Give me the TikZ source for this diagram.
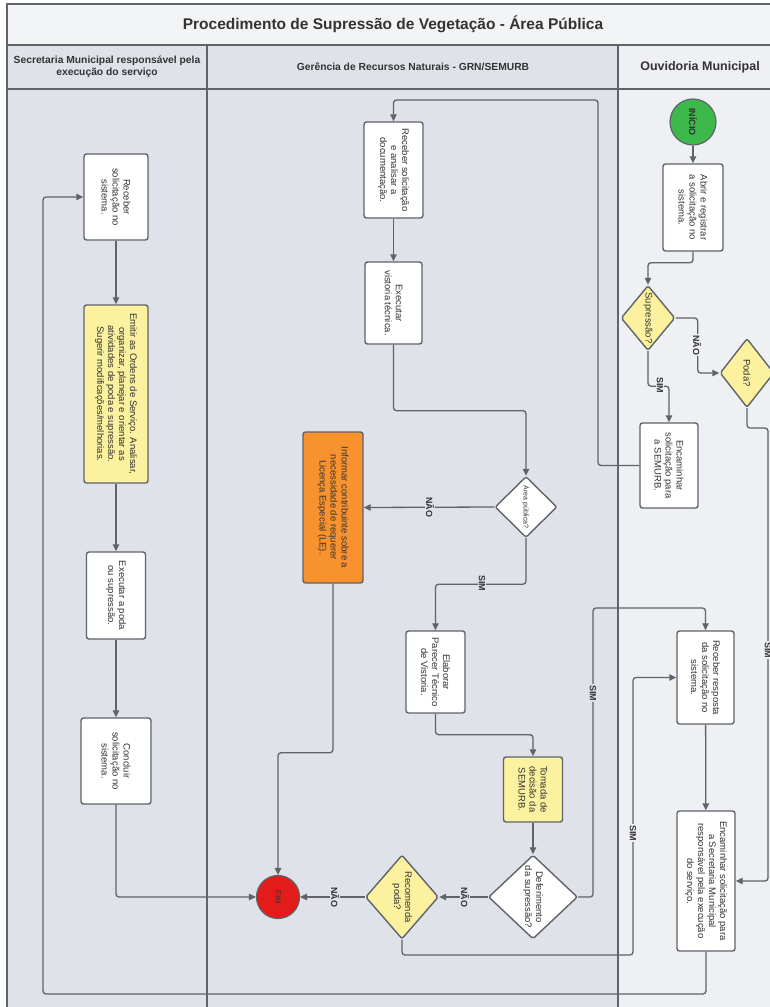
\documentclass[tikz,border=0pt]{standalone}
\usepackage{fontspec}
\setmainfont{Liberation Sans}
\usetikzlibrary{shapes.geometric,arrows.meta}
\definecolor{lane}{HTML}{DFE2E8}
\definecolor{lanelt}{HTML}{EEF0F3}
\definecolor{titlebg}{HTML}{F3F4F6}
\definecolor{bord}{HTML}{5F636A}
\definecolor{ylw}{HTML}{FBF19E}
\definecolor{org}{HTML}{F7922F}
\definecolor{redc}{HTML}{E31B1B}
\definecolor{grn}{HTML}{3DB84B}
\definecolor{txt}{HTML}{333333}
\newcommand{\vt}[2]{\rotatebox{-90}{\parbox{#1}{\centering #2}}}
\begin{document}
\begin{tikzpicture}[x=1pt,y=-1pt,
  bx/.style={draw=bord, line width=1.4pt, rounded corners=2.5pt, fill=white, inner sep=0pt, font=\fontsize{9.5}{11}\selectfont, text=txt},
  dm/.style={diamond, draw=bord, line width=1.4pt, rounded corners=2pt, fill=white, inner sep=0pt, aspect=1},
  dtxt/.style={font=\fontsize{9.5}{11}\selectfont, text=txt, inner sep=0pt},
  cl/.style={circle, draw=bord, line width=1.2pt, inner sep=0pt},
  cn/.style={draw=bord, line width=1.3pt, rounded corners=3pt, -{Triangle[length=7pt,width=6.5pt]}},
  lab/.style={font=\fontsize{9}{10}\selectfont\bfseries, text=txt, inner sep=1pt},
  lanebox/.style={draw=bord, line width=1.4pt},
]
\useasboundingbox (0,0) rectangle (769,1007);
% lanes
\fill[lane] (7,89) rectangle (618,1012);
\fill[lanelt] (618,89) rectangle (780,1012);
\draw[lanebox, fill=titlebg] (7,4) rectangle (780,45);
\draw[lanebox, fill=lane] (7,45) rectangle (207,89);
\draw[lanebox, fill=lane] (207,45) rectangle (618,89);
\draw[lanebox, fill=lanelt] (618,45) rectangle (780,89);
\draw[lanebox] (7,89) -- (7,1012);
\draw[lanebox] (207,89) -- (207,1012);
\draw[lanebox] (618,89) -- (618,1012);
\node[font=\fontsize{15.5}{18}\selectfont\bfseries, text=txt] (title) at (393,24) {Procedimento de Supressão de Vegetação - Área Pública};
\node[font=\fontsize{10.3}{12.5}\selectfont\bfseries, text=txt, align=center] (h1) at (107,67) {Secretaria Municipal responsável pela\\execução do serviço};
\node[font=\fontsize{10.3}{12.5}\selectfont\bfseries, text=txt] (h2) at (413,67) {Gerência de Recursos Naturais - GRN/SEMURB};
\node[font=\fontsize{12.5}{14}\selectfont\bfseries, text=txt] (h3) at (700,67) {Ouvidoria Municipal};
% lane 1 nodes
\node[bx, minimum width=64pt, minimum height=86pt] (r1) at (116,197) {\vt{82pt}{Receber\\solicitação no\\sistema.}};
\node[bx, fill=ylw, minimum width=64pt, minimum height=178pt] (em) at (116,394) {\vt{174pt}{Emitir as Ordens de Serviço. Analisar,\\organizar, planejar e orientar as\\atividades de poda e supressão.\\Sugerir modificações/melhorias.}};
\node[bx, minimum width=59pt, minimum height=87pt] (ex) at (116,595.5) {\vt{83pt}{Executar a poda\\ou supressão.}};
\node[bx, minimum width=70pt, minimum height=86pt] (co) at (116,761) {\vt{82pt}{Concluir\\solicitação no\\sistema.}};
% lane 2 nodes
\node[bx, minimum width=59pt, minimum height=96pt] (ra) at (393.5,170) {\vt{92pt}{Receber solicitação\\e analisar a\\documentação.}};
\node[bx, minimum width=57pt, minimum height=82pt] (ev) at (393.5,303) {\vt{78pt}{Executar\\vistoria técnica.}};
\node[dm, minimum width=62pt, minimum height=61pt, label={[font=\fontsize{7}{8}\selectfont, text=txt, inner sep=0pt]center:\rotatebox{-90}{Área pública?}}] (ap) at (526,507) {};
\node[bx, fill=org, minimum width=60pt, minimum height=151pt] (inf) at (333,507.5) {\vt{146pt}{Informar contribuinte sobre a\\necessidade de requerer\\Licença Especial (LE).}};
\node[bx, minimum width=59pt, minimum height=82pt] (el) at (435.5,672) {\vt{78pt}{Elaborar\\Parecer Técnico\\de Vistoria.}};
\node[bx, fill=ylw, minimum width=59pt, minimum height=65pt] (tom) at (533,789.5) {\vt{61pt}{Tomada de\\decisão da\\SEMURB.}};
\node[dm, minimum width=89pt, minimum height=84pt, label={[dtxt]center:\vt{72pt}{Deferimento\\da supressão?}}] (def) at (533,897) {};
\node[dm, fill=ylw, minimum width=73pt, minimum height=84pt, label={[dtxt]center:\vt{60pt}{Recomenda\\poda?}}] (rec) at (402,897) {};
\node[cl, fill=redc, minimum size=43pt, font=\fontsize{8}{9}\selectfont, text=txt] (fim) at (278,897) {\rotatebox{-90}{FIM}};
% lane 3 nodes
\node[cl, fill=grn, minimum size=46pt, font=\fontsize{9}{10}\selectfont\bfseries, text=txt] (ini) at (693,122) {\rotatebox{-90}{INÍCIO}};
\node[bx, minimum width=60pt, minimum height=87pt] (ab) at (693,207.5) {\vt{83pt}{Abrir e registrar\\a solicitação no\\sistema.}};
\node[dm, fill=ylw, minimum width=54pt, minimum height=65pt, label={[dtxt]center:\rotatebox{-90}{Supressão?}}] (sup) at (648,318) {};
\node[dm, fill=ylw, minimum width=54pt, minimum height=69pt, label={[dtxt]center:\rotatebox{-90}{Poda?}}] (poda) at (747,373) {};
\node[bx, minimum width=58pt, minimum height=85pt] (es) at (669,465.5) {\vt{81pt}{Encaminhar\\solicitação para\\a SEMURB.}};
\node[bx, minimum width=57pt, minimum height=93pt] (rr) at (705.5,677.5) {\vt{89pt}{Receber resposta\\da solicitação no\\sistema.}};
\node[bx, minimum width=58pt, minimum height=140pt] (esm) at (706,881) {\vt{134pt}{Encaminhar solicitação para\\a Secretaria Municipal\\responsável pela execução\\do serviço.}};
% connectors
\draw[cn] (ini) -- (ab);
\draw[cn] (ab.south) -- ++(0,11) -| (sup.north);
\draw[cn] (sup.east) -- ++(22,0) |- (poda.west);
\draw[cn] (sup.south) -- ++(0,35) -| (es.north);
\draw[cn] (es.west) -| (598,100) -| (ra.north);
\draw[cn] (ra) -- (ev);
\draw[cn] (ev.south) -- ++(0,66) -| (ap.north);
\draw[cn] (ap.west) -- (inf.east);
\draw[cn] (ap.south) -- ++(0,46) -| (el.north);
\draw[cn] (inf.south) -- ++(0,169) -| (fim.north);
\draw[cn] (el.south) -- ++(0,21) -| (tom.north);
\draw[cn] (tom) -- (def);
\draw[cn] (def.west) -- (rec.east);
\draw[cn] (rec.west) -- (fim.east);
\draw[cn] (def.east) -| (593,608) -| (rr.north);
\draw[cn] (rec.south) |- (633,955) |- (rr.west);
\draw[cn] (rr) -- (esm);
\draw[cn] (poda.south) |- (768,428) |- (esm.east);
\draw[cn] (esm.south) |- (43,994) |- (r1.west);
\draw[cn] (r1) -- (em);
\draw[cn] (em) -- (ex);
\draw[cn] (ex) -- (co);
\draw[cn] (co.south) |- (fim.west);
% edge labels
\node[lab, fill=lanelt] (l1) at (697,345) {\rotatebox{-90}{NÃO}};
\node[lab, fill=lanelt] (l2) at (660,385) {\rotatebox{-90}{SIM}};
\node[lab, fill=lane] (l3) at (430,507) {\rotatebox{-90}{NÃO}};
\node[lab, fill=lane] (l4) at (482,583) {\rotatebox{-90}{SIM}};
\node[lab, fill=lane] (l5) at (465,897) {\rotatebox{-90}{NÃO}};
\node[lab, fill=lane] (l6) at (335,897) {\rotatebox{-90}{NÃO}};
\node[lab, fill=lane] (l7) at (593,693) {\rotatebox{-90}{SIM}};
\node[lab, fill=lanelt] (l8) at (633,833) {\rotatebox{-90}{SIM}};
\node[lab, fill=lanelt] (l9) at (768,650) {\rotatebox{-90}{SIM}};
\end{tikzpicture}
\end{document}
